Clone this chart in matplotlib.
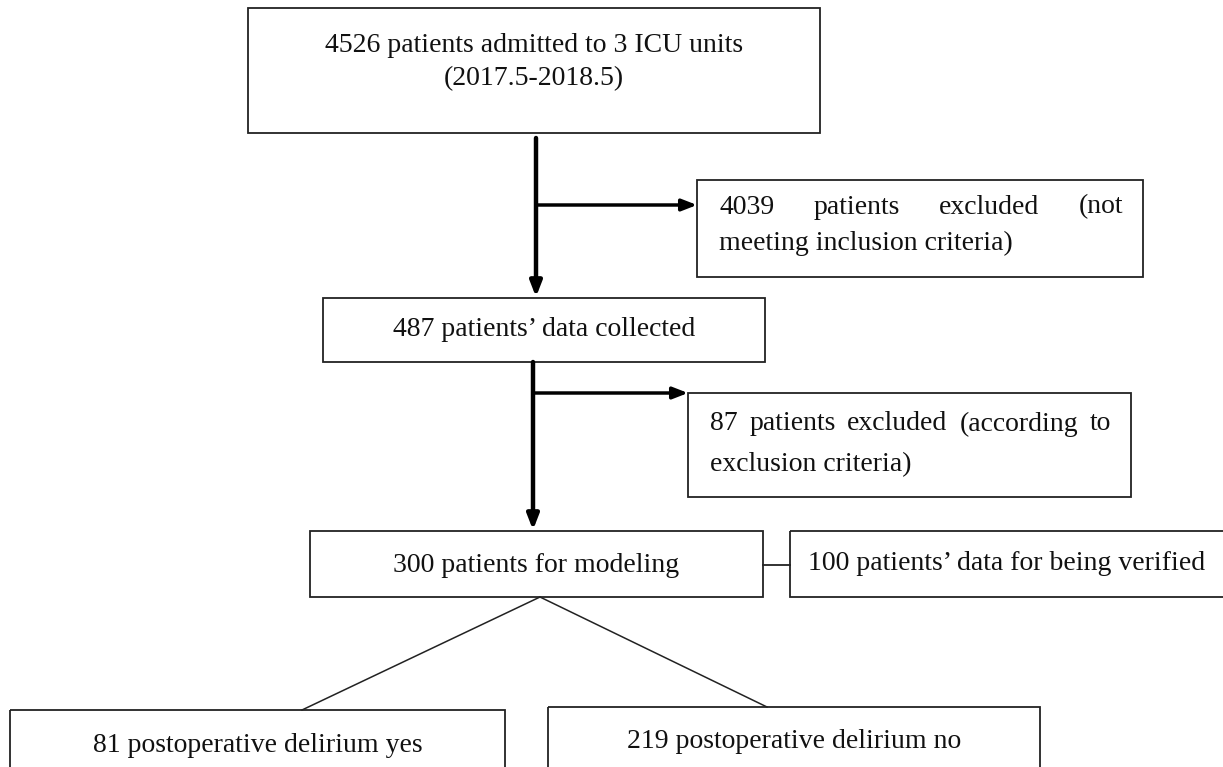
import matplotlib.pyplot as plt
from matplotlib.patches import Rectangle

# boxes: label lines, (left, top, right, bottom) in pixel coords of the image
box_texts = [
    ["4526 patients admitted to 3 ICU units", "(2017.5-2018.5)"],
    ["4039 patients excluded (not", "meeting inclusion criteria)"],
    ["487 patients\u2019 data collected"],
    ["87 patients excluded (according to", "exclusion criteria)"],
    ["300 patients for modeling"],
    ["100 patients\u2019 data for being verified"],
    ["81 postoperative delirium yes"],
    ["219 postoperative delirium no"],
]
box_rects = [
    (248, 8, 820, 133),
    (697, 180, 1143, 277),
    (323, 298, 765, 362),
    (688, 393, 1131, 497),
    (310, 531, 763, 597),
    (790, 531, 1226, 597),
    (10, 710, 505, 775),
    (548, 707, 1040, 775),
]
# text y positions (line centres) and alignment mode
text_y = [[45, 79], [207, 243], [330], [424, 465], [565], [563], [745], [742]]
justified = [False, True, False, True, False, False, False, False]

W, H = 1223, 767
fig = plt.figure(figsize=(W / 100, H / 100), dpi=100)
ax = fig.add_axes([0, 0, 1, 1])
ax.set_xlim(0, W)
ax.set_ylim(H, 0)
ax.axis("off")

font = dict(family="Liberation Serif", size=20, color="#111111")

fig.canvas.draw()
rend = fig.canvas.get_renderer()

for lines, (l, t, r, b), ys, just in zip(box_texts, box_rects, text_y, justified):
    ax.add_patch(Rectangle((l, t), r - l, b - t, fill=False, ec="#222222", lw=1.3))
    if not just:
        for line, y in zip(lines, ys):
            ax.text((l + min(r, W)) / 2, y, line, ha="center", va="center", **font)
    else:
        x0, x1 = l + 22, r - 20
        # first line spread to full width, last line left aligned
        words = lines[0].split()
        objs = [ax.text(0, ys[0], w, ha="left", va="center", **font) for w in words]
        widths = [o.get_window_extent(rend).width for o in objs]
        gap = (x1 - x0 - sum(widths)) / (len(words) - 1)
        x = x0
        for o, w in zip(objs, widths):
            o.set_x(x)
            x += w + gap
        ax.text(x0, ys[1], lines[1], ha="left", va="center", **font)

# thick arrows
arrow_kw = dict(arrowstyle="-|>,head_length=0.9,head_width=0.35", color="black", lw=3.2,
                shrinkA=0, shrinkB=0)
ax.annotate("", xy=(536, 297), xytext=(536, 138), arrowprops=arrow_kw)
ax.annotate("", xy=(697, 205), xytext=(536, 205),
            arrowprops=dict(arrow_kw, lw=2.5))
ax.annotate("", xy=(533, 530), xytext=(533, 362), arrowprops=arrow_kw)
ax.annotate("", xy=(688, 393), xytext=(533, 393),
            arrowprops=dict(arrow_kw, lw=2.5))

# connectors
ax.plot([763, 790], [565, 565], color="#222222", lw=1.3)
ax.plot([540, 302], [597, 710], color="#222222", lw=1.1)
ax.plot([540, 767], [597, 707], color="#222222", lw=1.1)

fig.savefig("out.png", dpi=100)
